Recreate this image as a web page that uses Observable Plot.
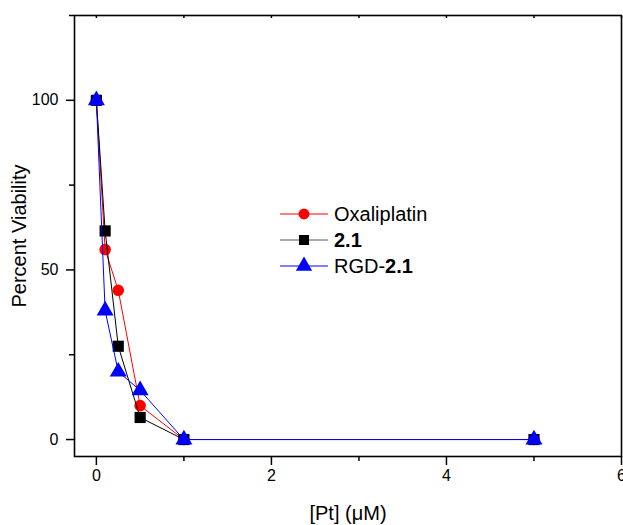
<!DOCTYPE html>
<html>
<head>
<meta charset="utf-8">
<script src="https://cdn.jsdelivr.net/npm/d3@7"></script>
<script src="https://cdn.jsdelivr.net/npm/@observablehq/plot@0.6"></script>
<style>
  html, body { margin: 0; padding: 0; background: white; overflow: hidden; }
  #wrap { position: relative; width: 623px; height: 525px; }
  #legend { position: absolute; left: 0; top: 0; }
  #wrap svg.plotsvg text { font-size: 16px !important; }
  #wrap svg.plotsvg g[aria-label="x-axis label"] text, #wrap svg.plotsvg g[aria-label="y-axis label"] text { font-size: 20px !important; }
</style>
</head>
<body>
<div id="wrap"></div>
<script>
// Data
const concentrations = [0, 0.1, 0.25, 0.5, 1, 5];
const oxaliplatin = [100, 56, 44, 10, 0, 0];
const cmpd21 = [100, 61.5, 27.5, 6.5, 0, 0];
const rgd21 = [100, 38, 20, 14.5, 0, 0];
const seriesNames = ["Oxaliplatin", "2.1", "RGD-2.1"];
const seriesColors = ["#ff0000", "#000000", "#0000ff"];
const lineColors = ["#ff0000", "#000000", "#0000ff"];
const seriesSymbols = ["circle", "square", "triangle"];
const xMajorTicks = [0, 2, 4, 6];
const xMinorTicks = [1, 3, 5];
const yMajorTicks = [0, 50, 100];
const yMinorTicks = [25, 75, 125];

const seriesValues = [oxaliplatin, cmpd21, rgd21];
const data = [];
seriesNames.forEach((name, si) => {
  concentrations.forEach((c, i) => data.push({series: name, x: c, y: seriesValues[si][i]}));
});

const font = "Liberation Sans, Arial, Helvetica, sans-serif";
const marks = [];
seriesNames.forEach((name, si) => {
  const d = data.filter(r => r.series === name);
  marks.push(Plot.line(d, {x: "x", y: "y", stroke: lineColors[si], strokeWidth: 1}));
  marks.push(Plot.dot(d, {x: "x", y: "y", symbol: () => seriesSymbols[si], fill: seriesColors[si], stroke: "none",
    r: seriesSymbols[si] === "triangle" ? 6.3 : (seriesSymbols[si] === "square" ? 6.3 : 5.8)}));
});

const chart = Plot.plot({
  width: 623,
  height: 525,
  marginLeft: 74,
  marginRight: 2,
  marginTop: 15,
  marginBottom: 69,
  style: {fontFamily: font, fontSize: "16px", color: "black", background: "white", overflow: "hidden"},
  x: {domain: [-0.25, 6]},
  y: {domain: [-5, 125]},
  marks: [
    Plot.axisX({ticks: xMajorTicks, tickSize: 9, tickPadding: 4, tickFormat: d3.format("d"),
      label: "[Pt] (\u03BCM)", labelAnchor: "center", labelArrow: "none", labelOffset: 63, strokeWidth: 1.5}),
    Plot.axisX({ticks: xMinorTicks, tickSize: 5, text: null, label: null, strokeWidth: 1.5}),
    Plot.axisX({anchor: "top", ticks: xMajorTicks.concat(xMinorTicks), tickSize: -2, text: null, label: null, strokeWidth: 1.5}),
    Plot.axisY({ticks: yMajorTicks, tickSize: 8, tickPadding: 8,
      label: "Percent Viability", labelAnchor: "center", labelArrow: "none", labelOffset: 63, strokeWidth: 1.5}),
    Plot.axisY({ticks: yMinorTicks, tickSize: 5, text: null, label: null, strokeWidth: 1.5}),
    Plot.frame({stroke: "black", strokeWidth: 1.6}),
    ...marks
  ]
});
chart.classList.add("plotsvg");
document.getElementById("wrap").appendChild(chart);

// Legend (inside the plot area)
const lg = d3.select("#wrap").append("svg").attr("id", "legend").attr("width", 623).attr("height", 525)
  .style("pointer-events", "none");
const legendX = 280, legendY0 = 214, legendDy = 26;
seriesNames.forEach((name, si) => {
  const y = legendY0 + si * legendDy;
  const g = lg.append("g").attr("transform", `translate(${legendX},${y})`);
  g.append("line").attr("x1", 0).attr("x2", 48).attr("y1", 0).attr("y2", 0)
    .attr("stroke", si === 1 ? "#555" : lineColors[si]).attr("stroke-width", 1);
  const sym = {circle: d3.symbolCircle, square: d3.symbolSquare, triangle: d3.symbolTriangle}[seriesSymbols[si]];
  const size = seriesSymbols[si] === "circle" ? Math.PI * 30 : (seriesSymbols[si] === "square" ? 100 : 115);
  g.append("path").attr("d", d3.symbol(sym, size)()).attr("transform", "translate(24,0)").attr("fill", seriesColors[si]);
  const t = g.append("text").attr("x", 54).attr("y", 0).attr("dy", "0.36em")
    .attr("font-family", font).attr("font-size", 20).attr("fill", "black");
  if (name === "2.1") {
    t.append("tspan").attr("font-weight", "bold").text("2.1");
  } else if (name === "RGD-2.1") {
    t.append("tspan").text("RGD-");
    t.append("tspan").attr("font-weight", "bold").text("2.1");
  } else {
    t.text(name);
  }
});
</script>
</body>
</html>
